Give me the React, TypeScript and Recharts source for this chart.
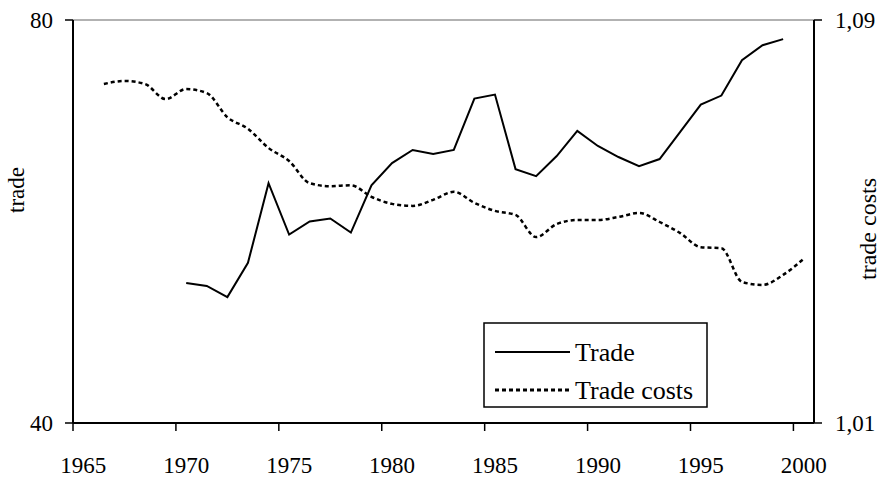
import { Customized, Line, LineChart, ReferenceLine, XAxis, YAxis } from "recharts";

// years 1966..2000, trade only observed 1970..1999
const years = [
  1966, 1967, 1968, 1969, 1970, 1971, 1972, 1973, 1974, 1975, 1976, 1977, 1978, 1979, 1980, 1981, 1982, 1983,
  1984, 1985, 1986, 1987, 1988, 1989, 1990, 1991, 1992, 1993, 1994, 1995, 1996, 1997, 1998, 1999, 2000,
];

const tradeStart = 1970;
const trade = [
  53.9, 53.6, 52.5, 55.9, 63.8, 58.7, 60.0, 60.3, 58.9, 63.6, 65.8, 67.1, 66.7, 67.1, 72.2, 72.6, 65.2, 64.5,
  66.5, 69.0, 67.5, 66.4, 65.5, 66.2, 68.9, 71.6, 72.5, 76.0, 77.5, 78.1,
];

const tradeCosts = [
  1.0773, 1.0779, 1.0773, 1.0743, 1.0763, 1.0755, 1.0707, 1.0684, 1.0646, 1.062, 1.0576, 1.057, 1.0572, 1.0549,
  1.0535, 1.0531, 1.0543, 1.0559, 1.0537, 1.0521, 1.0513, 1.0469, 1.0495, 1.0503, 1.0503, 1.0509, 1.0517, 1.0499,
  1.0477, 1.0449, 1.0447, 1.038, 1.0374, 1.0394, 1.0426,
];

const xTicks = [1965, 1970, 1975, 1980, 1985, 1990, 1995, 2000];
const leftTicks = [40, 80];
const rightTicks = [1.01, 1.09];

const seriesNames = { trade: "Trade", costs: "Trade costs" };

const FONT = "'Liberation Serif', 'Times New Roman', serif";
const W = 889;
const H = 481;
const PLOT_LEFT = 73;
const PLOT_RIGHT = 814;
const HALF_YEAR = (PLOT_RIGHT - PLOT_LEFT) / 36 / 2;

// each year sits in the middle of its category slot
const data = years.map((year, i) => {
  const t = year - tradeStart;
  return {
    x: year + 0.5,
    trade: t >= 0 && t < trade.length ? trade[t] : null,
    costs: tradeCosts[i],
  };
});

function YearTick({ x, y, payload }: { x?: number; y?: number; payload?: { value: number } }) {
  return (
    <text x={(x ?? 0) + HALF_YEAR} y={y} dy="0.71em" textAnchor="middle" fontSize={23} fontFamily={FONT} fill="#000">
      {payload?.value}
    </text>
  );
}

function Decorations() {
  return (
    <g fontFamily={FONT} fill="#000">
      <text x={16} y={190} fontSize={23} textAnchor="middle" dominantBaseline="central" transform="rotate(-90, 16, 190)">
        trade
      </text>
      <text
        x={868}
        y={229}
        fontSize={24}
        textAnchor="middle"
        dominantBaseline="central"
        transform="rotate(-90, 868, 229)"
      >
        trade costs
      </text>
      <rect x={484} y={323} width={223} height={84} fill="#fff" stroke="#000" strokeWidth={1.5} />
      <line x1={495} x2={570} y1={352} y2={352} stroke="#000" strokeWidth={2} />
      <text x={575} y={352} fontSize={26} dominantBaseline="central">
        {seriesNames.trade}
      </text>
      <line x1={495} x2={570} y1={390} y2={390} stroke="#000" strokeWidth={3} strokeDasharray="4 3" />
      <text x={575} y={390} fontSize={26} dominantBaseline="central">
        {seriesNames.costs}
      </text>
    </g>
  );
}

export default function App() {
  const tickStyle = { fontSize: 23, fontFamily: FONT, fill: "#000" };
  return (
    <div style={{ position: "absolute", left: 0, top: 0, width: W, height: H, background: "#fff" }}>
      <LineChart width={W} height={H} data={data} margin={{ top: 20, right: 13, bottom: 18, left: 13 }}>
        <XAxis
          type="number"
          dataKey="x"
          domain={[1965, 2001]}
          ticks={xTicks}
          allowDataOverflow
          tickSize={8}
          tickMargin={26}
          height={40}
          axisLine={{ stroke: "#000", strokeWidth: 2 }}
          tickLine={{ stroke: "#000", strokeWidth: 1.5 }}
          tick={<YearTick />}
        />
        <YAxis
          yAxisId="left"
          domain={[40, 80]}
          ticks={leftTicks}
          width={60}
          tickSize={8}
          tickMargin={12}
          axisLine={{ stroke: "#000", strokeWidth: 2 }}
          tickLine={{ stroke: "#000", strokeWidth: 1.5 }}
          tick={tickStyle}
        />
        <YAxis
          yAxisId="right"
          orientation="right"
          domain={[1.01, 1.09]}
          ticks={rightTicks}
          width={62}
          tickSize={8}
          tickMargin={13}
          tickFormatter={(v: number) => v.toFixed(2).replace(".", ",")}
          axisLine={{ stroke: "#000", strokeWidth: 2 }}
          tickLine={{ stroke: "#000", strokeWidth: 1.5 }}
          tick={tickStyle}
        />
        <ReferenceLine yAxisId="left" y={80} stroke="#999" strokeWidth={1.5} />
        <Line
          yAxisId="right"
          dataKey="costs"
          name={seriesNames.costs}
          type="monotone"
          stroke="#000"
          strokeWidth={2.5}
          strokeDasharray="4 3"
          dot={false}
          isAnimationActive={false}
        />
        <Line
          yAxisId="left"
          dataKey="trade"
          name={seriesNames.trade}
          type="linear"
          stroke="#000"
          strokeWidth={2}
          dot={false}
          connectNulls={false}
          isAnimationActive={false}
        />
        <Customized component={<Decorations />} />
      </LineChart>
    </div>
  );
}
